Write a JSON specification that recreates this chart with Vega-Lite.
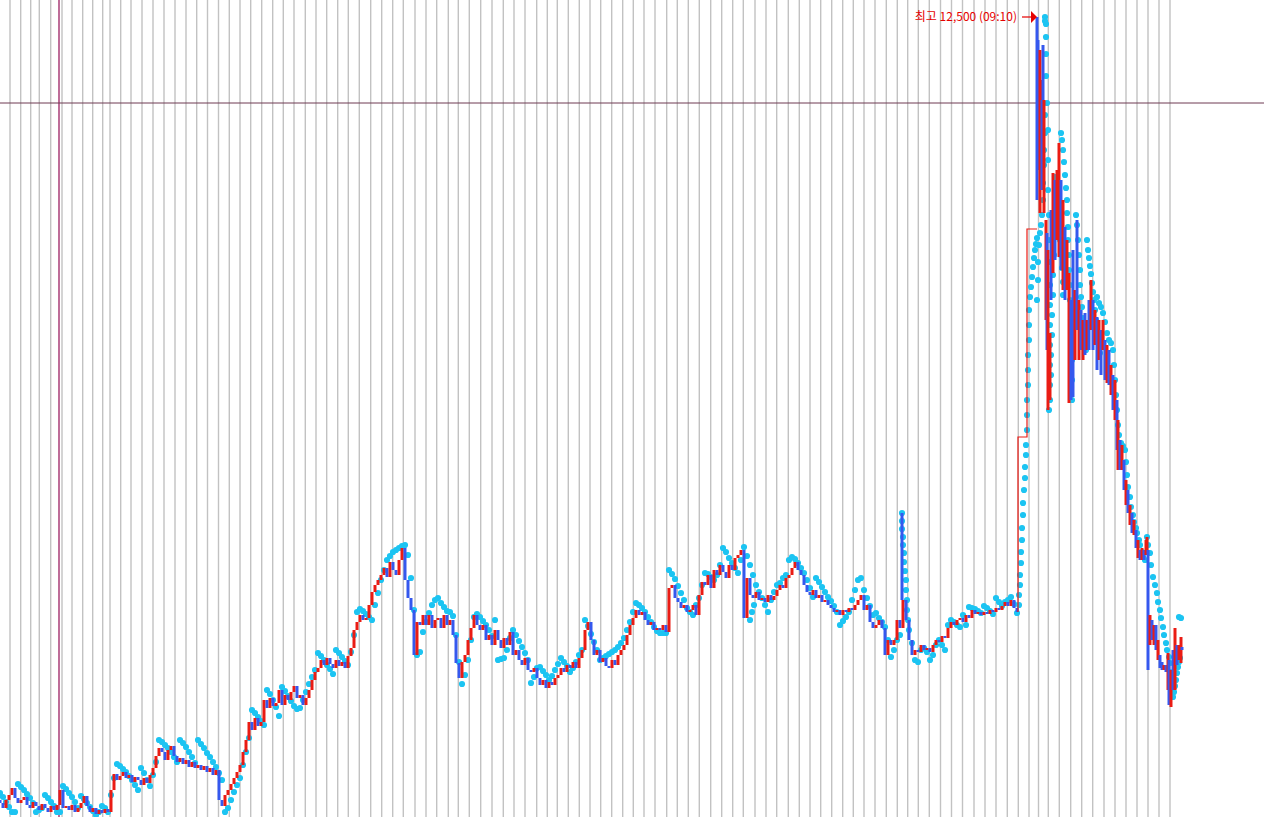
{
"$schema":"https://vega.github.io/schema/vega-lite/v6.json",
"width":1264,"height":817,
"autosize":"none",
"padding":0,
"background":"white",
"config":{"view":{"stroke":null}},
"datasets":{
"grid":[{"t":10},{"t":20.7},{"t":30.7},{"t":39.3},{"t":50.7},{"t":62},{"t":72},{"t":82.7},{"t":92.7},{"t":102.7},{"t":110},{"t":120.7},{"t":131},{"t":142},{"t":153},{"t":164},{"t":175},{"t":186},{"t":196.7},{"t":207.5},{"t":218.5},{"t":229.3},{"t":240},{"t":250.7},{"t":261.7},{"t":272.7},{"t":283.3},{"t":294},{"t":305.3},{"t":316},{"t":326.7},{"t":337.7},{"t":348.3},{"t":359.3},{"t":370.7},{"t":381.7},{"t":392.7},{"t":403.3},{"t":415},{"t":426},{"t":436.7},{"t":448.3},{"t":458.3},{"t":469.3},{"t":480.7},{"t":492},{"t":503.3},{"t":514},{"t":525},{"t":536.7},{"t":547.3},{"t":557.3},{"t":568.3},{"t":579.3},{"t":590},{"t":600.7},{"t":611.7},{"t":622.7},{"t":633.3},{"t":644},{"t":655},{"t":666.7},{"t":677.3},{"t":688.3},{"t":699.3},{"t":710.7},{"t":721.7},{"t":732.7},{"t":743.3},{"t":755},{"t":766},{"t":776.7},{"t":788.3},{"t":799.3},{"t":810},{"t":820.7},{"t":831.7},{"t":842.7},{"t":853.3},{"t":864},{"t":875},{"t":886.3},{"t":897.3},{"t":907.7},{"t":918.3},{"t":929.3},{"t":940.5},{"t":951.5},{"t":962.5},{"t":974},{"t":985},{"t":996},{"t":1007.3},{"t":1018.3},{"t":1029},{"t":1038.5},{"t":1048.3},{"t":1059.3},{"t":1070.7},{"t":1081.7},{"t":1092.7},{"t":1104},{"t":1115},{"t":1126},{"t":1137},{"t":1148},{"t":1159},{"t":1170}],
"bars":[
{"t":0,"o":11717,"c":11714},{"t":3,"o":11714,"c":11709},{"t":6,"o":11709,"c":11717},{"t":9,"o":11717,"c":11722},{"t":12,"o":11722,"c":11729},{"t":15,"o":11729,"c":11719},{"t":18,"o":11719,"c":11714},{"t":21,"o":11714,"c":11717},{"t":24,"o":11717,"c":11720},{"t":27,"o":11720,"c":11712},
{"t":30,"o":11712,"c":11709},{"t":33,"o":11709,"c":11715},{"t":36,"o":11715,"c":11711},{"t":39,"o":11711,"c":11707},{"t":42,"o":11707,"c":11713},{"t":45,"o":11713,"c":11709},{"t":48,"o":11709,"c":11705},{"t":51,"o":11705,"c":11711},{"t":54,"o":11711,"c":11707},{"t":57,"o":11707,"c":11712},
{"t":60,"o":11712,"c":11727},{"t":63,"o":11727,"c":11709},{"t":66,"o":11709,"c":11711},{"t":69,"o":11711,"c":11707},{"t":72,"o":11707,"c":11712},{"t":75,"o":11712,"c":11705},{"t":78,"o":11705,"c":11709},{"t":81,"o":11709,"c":11714},{"t":84,"o":11714,"c":11721},{"t":87,"o":11721,"c":11711},
{"t":90,"o":11711,"c":11705},{"t":93,"o":11705,"c":11709},{"t":96,"o":11709,"c":11703},{"t":99,"o":11703,"c":11707},{"t":102,"o":11707,"c":11704},{"t":105,"o":11704,"c":11708},{"t":108,"o":11708,"c":11705},{"t":111,"o":11705,"c":11727},{"t":114,"o":11727,"c":11743},{"t":117,"o":11743,"c":11737},
{"t":120,"o":11737,"c":11741},{"t":123,"o":11741,"c":11745},{"t":126,"o":11745,"c":11739},{"t":129,"o":11739,"c":11742},{"t":132,"o":11742,"c":11735},{"t":135,"o":11735,"c":11740},{"t":138,"o":11740,"c":11737},{"t":141,"o":11737,"c":11732},{"t":144,"o":11732,"c":11739},{"t":147,"o":11739,"c":11734},
{"t":150,"o":11734,"c":11742},{"t":153,"o":11742,"c":11749},{"t":156,"o":11749,"c":11761},{"t":159,"o":11761,"c":11769},{"t":162,"o":11769,"c":11765},{"t":165,"o":11765,"c":11757},{"t":168,"o":11757,"c":11767},{"t":171,"o":11767,"c":11771},{"t":174,"o":11771,"c":11761},{"t":177,"o":11761,"c":11755},
{"t":180,"o":11755,"c":11759},{"t":183,"o":11759,"c":11753},{"t":186,"o":11753,"c":11757},{"t":189,"o":11757,"c":11750},{"t":192,"o":11750,"c":11755},{"t":195,"o":11755,"c":11749},{"t":198,"o":11749,"c":11752},{"t":201,"o":11752,"c":11747},{"t":204,"o":11747,"c":11751},{"t":207,"o":11751,"c":11745},
{"t":210,"o":11745,"c":11749},{"t":213,"o":11749,"c":11742},{"t":216,"o":11742,"c":11747},{"t":219,"o":11747,"c":11717},{"t":222,"o":11717,"c":11711},{"t":225,"o":11711,"c":11722},{"t":228,"o":11722,"c":11727},{"t":231,"o":11727,"c":11733},{"t":234,"o":11733,"c":11739},{"t":237,"o":11739,"c":11745},
{"t":240,"o":11745,"c":11752},{"t":243,"o":11752,"c":11765},{"t":246,"o":11765,"c":11777},{"t":249,"o":11777,"c":11795},{"t":252,"o":11795,"c":11787},{"t":255,"o":11787,"c":11799},{"t":258,"o":11799,"c":11791},{"t":261,"o":11791,"c":11795},{"t":264,"o":11795,"c":11817},{"t":267,"o":11817,"c":11809},
{"t":270,"o":11809,"c":11819},{"t":273,"o":11819,"c":11811},{"t":276,"o":11811,"c":11814},{"t":279,"o":11814,"c":11827},{"t":282,"o":11827,"c":11812},{"t":285,"o":11812,"c":11822},{"t":288,"o":11822,"c":11817},{"t":291,"o":11817,"c":11825},{"t":294,"o":11825,"c":11831},{"t":297,"o":11831,"c":11819},
{"t":300,"o":11819,"c":11822},{"t":303,"o":11822,"c":11812},{"t":306,"o":11812,"c":11819},{"t":309,"o":11819,"c":11827},{"t":312,"o":11827,"c":11837},{"t":315,"o":11837,"c":11845},{"t":318,"o":11845,"c":11849},{"t":321,"o":11849,"c":11857},{"t":324,"o":11857,"c":11852},{"t":327,"o":11852,"c":11859},
{"t":330,"o":11859,"c":11853},{"t":333,"o":11853,"c":11849},{"t":336,"o":11849,"c":11857},{"t":339,"o":11857,"c":11851},{"t":342,"o":11851,"c":11855},{"t":345,"o":11855,"c":11849},{"t":348,"o":11849,"c":11861},{"t":351,"o":11861,"c":11869},{"t":354,"o":11869,"c":11887},{"t":357,"o":11887,"c":11895},
{"t":360,"o":11895,"c":11902},{"t":363,"o":11902,"c":11897},{"t":366,"o":11897,"c":11899},{"t":369,"o":11899,"c":11912},{"t":372,"o":11912,"c":11925},{"t":375,"o":11925,"c":11932},{"t":378,"o":11932,"c":11937},{"t":381,"o":11937,"c":11942},{"t":384,"o":11942,"c":11949},{"t":387,"o":11949,"c":11940},
{"t":390,"o":11940,"c":11955},{"t":393,"o":11955,"c":11947},{"t":396,"o":11947,"c":11942},{"t":399,"o":11942,"c":11957},{"t":402,"o":11957,"c":11969},{"t":405,"o":11969,"c":11937},{"t":408,"o":11937,"c":11919},{"t":411,"o":11919,"c":11907},{"t":414,"o":11907,"c":11862},{"t":417,"o":11862,"c":11895},
{"t":420,"o":11895,"c":11892},{"t":423,"o":11892,"c":11902},{"t":426,"o":11902,"c":11892},{"t":429,"o":11892,"c":11902},{"t":432,"o":11902,"c":11889},{"t":435,"o":11889,"c":11897},{"t":438,"o":11897,"c":11899},{"t":441,"o":11899,"c":11889},{"t":444,"o":11889,"c":11902},{"t":447,"o":11902,"c":11892},
{"t":450,"o":11892,"c":11897},{"t":453,"o":11897,"c":11882},{"t":456,"o":11882,"c":11854},{"t":459,"o":11854,"c":11839},{"t":462,"o":11839,"c":11855},{"t":465,"o":11855,"c":11862},{"t":468,"o":11862,"c":11877},{"t":471,"o":11877,"c":11889},{"t":474,"o":11889,"c":11902},{"t":477,"o":11902,"c":11892},
{"t":480,"o":11892,"c":11887},{"t":483,"o":11887,"c":11892},{"t":486,"o":11892,"c":11877},{"t":489,"o":11877,"c":11882},{"t":492,"o":11882,"c":11872},{"t":495,"o":11872,"c":11887},{"t":498,"o":11887,"c":11877},{"t":501,"o":11877,"c":11869},{"t":504,"o":11869,"c":11879},{"t":507,"o":11879,"c":11872},
{"t":510,"o":11872,"c":11885},{"t":513,"o":11885,"c":11862},{"t":516,"o":11862,"c":11867},{"t":519,"o":11867,"c":11857},{"t":522,"o":11857,"c":11852},{"t":525,"o":11852,"c":11859},{"t":528,"o":11859,"c":11847},{"t":531,"o":11847,"c":11845},{"t":534,"o":11845,"c":11849},{"t":537,"o":11849,"c":11839},
{"t":540,"o":11839,"c":11832},{"t":543,"o":11832,"c":11837},{"t":546,"o":11837,"c":11829},{"t":549,"o":11829,"c":11835},{"t":552,"o":11835,"c":11832},{"t":555,"o":11832,"c":11839},{"t":558,"o":11839,"c":11842},{"t":561,"o":11842,"c":11849},{"t":564,"o":11849,"c":11845},{"t":567,"o":11845,"c":11852},
{"t":570,"o":11852,"c":11849},{"t":573,"o":11849,"c":11855},{"t":576,"o":11855,"c":11849},{"t":579,"o":11849,"c":11859},{"t":582,"o":11859,"c":11867},{"t":585,"o":11867,"c":11887},{"t":588,"o":11887,"c":11895},{"t":591,"o":11895,"c":11877},{"t":594,"o":11877,"c":11862},{"t":597,"o":11862,"c":11867},
{"t":600,"o":11867,"c":11855},{"t":603,"o":11855,"c":11859},{"t":606,"o":11859,"c":11851},{"t":609,"o":11851,"c":11849},{"t":612,"o":11849,"c":11857},{"t":615,"o":11857,"c":11852},{"t":618,"o":11852,"c":11862},{"t":621,"o":11862,"c":11867},{"t":624,"o":11867,"c":11872},{"t":627,"o":11872,"c":11882},
{"t":630,"o":11882,"c":11892},{"t":633,"o":11892,"c":11899},{"t":636,"o":11899,"c":11907},{"t":639,"o":11907,"c":11902},{"t":642,"o":11902,"c":11905},{"t":645,"o":11905,"c":11897},{"t":648,"o":11897,"c":11892},{"t":651,"o":11892,"c":11895},{"t":654,"o":11895,"c":11887},{"t":657,"o":11887,"c":11889},
{"t":660,"o":11889,"c":11887},{"t":663,"o":11887,"c":11892},{"t":666,"o":11892,"c":11885},{"t":669,"o":11885,"c":11929},{"t":672,"o":11929,"c":11932},{"t":675,"o":11932,"c":11919},{"t":678,"o":11919,"c":11915},{"t":681,"o":11915,"c":11909},{"t":684,"o":11909,"c":11912},{"t":687,"o":11912,"c":11905},
{"t":690,"o":11905,"c":11907},{"t":693,"o":11907,"c":11912},{"t":696,"o":11912,"c":11902},{"t":699,"o":11902,"c":11922},{"t":702,"o":11922,"c":11935},{"t":705,"o":11935,"c":11932},{"t":708,"o":11932,"c":11942},{"t":711,"o":11942,"c":11929},{"t":714,"o":11929,"c":11947},{"t":717,"o":11947,"c":11942},
{"t":720,"o":11942,"c":11952},{"t":723,"o":11952,"c":11945},{"t":726,"o":11945,"c":11939},{"t":729,"o":11939,"c":11952},{"t":732,"o":11952,"c":11947},{"t":735,"o":11947,"c":11959},{"t":738,"o":11959,"c":11962},{"t":741,"o":11962,"c":11967},{"t":744,"o":11967,"c":11899},{"t":747,"o":11899,"c":11939},
{"t":750,"o":11939,"c":11922},{"t":753,"o":11922,"c":11919},{"t":756,"o":11919,"c":11925},{"t":759,"o":11925,"c":11917},{"t":762,"o":11917,"c":11919},{"t":765,"o":11919,"c":11915},{"t":768,"o":11915,"c":11922},{"t":771,"o":11922,"c":11917},{"t":774,"o":11917,"c":11921},{"t":777,"o":11921,"c":11927},
{"t":780,"o":11927,"c":11932},{"t":783,"o":11932,"c":11929},{"t":786,"o":11929,"c":11939},{"t":789,"o":11939,"c":11942},{"t":792,"o":11942,"c":11949},{"t":795,"o":11949,"c":11955},{"t":798,"o":11955,"c":11947},{"t":801,"o":11947,"c":11942},{"t":804,"o":11942,"c":11932},{"t":807,"o":11932,"c":11925},
{"t":810,"o":11925,"c":11922},{"t":813,"o":11922,"c":11927},{"t":816,"o":11927,"c":11919},{"t":819,"o":11919,"c":11922},{"t":822,"o":11922,"c":11915},{"t":825,"o":11915,"c":11917},{"t":828,"o":11917,"c":11912},{"t":831,"o":11912,"c":11909},{"t":834,"o":11909,"c":11905},{"t":837,"o":11905,"c":11907},
{"t":840,"o":11907,"c":11902},{"t":843,"o":11902,"c":11907},{"t":846,"o":11907,"c":11905},{"t":849,"o":11905,"c":11909},{"t":852,"o":11909,"c":11907},{"t":855,"o":11907,"c":11912},{"t":858,"o":11912,"c":11917},{"t":861,"o":11917,"c":11922},{"t":864,"o":11922,"c":11907},{"t":867,"o":11907,"c":11912},
{"t":870,"o":11912,"c":11895},{"t":873,"o":11895,"c":11889},{"t":876,"o":11889,"c":11892},{"t":879,"o":11892,"c":11897},{"t":882,"o":11897,"c":11889},{"t":885,"o":11889,"c":11862},{"t":888,"o":11862,"c":11877},{"t":891,"o":11877,"c":11872},{"t":894,"o":11872,"c":11877},{"t":897,"o":11877,"c":11897},
{"t":900,"o":11897,"c":11889},{"t":902,"o":12004,"c":11917},{"t":903,"o":11889,"c":11917},{"t":906,"o":11917,"c":11897},{"t":909,"o":11897,"c":11877},{"t":912,"o":11877,"c":11862},{"t":915,"o":11862,"c":11867},{"t":918,"o":11867,"c":11865},{"t":921,"o":11865,"c":11872},{"t":924,"o":11872,"c":11867},{"t":927,"o":11867,"c":11869},
{"t":930,"o":11869,"c":11865},{"t":933,"o":11865,"c":11872},{"t":936,"o":11872,"c":11877},{"t":939,"o":11877,"c":11875},{"t":942,"o":11875,"c":11881},{"t":945,"o":11881,"c":11879},{"t":948,"o":11879,"c":11889},{"t":951,"o":11889,"c":11895},{"t":954,"o":11895,"c":11892},{"t":957,"o":11892,"c":11897},
{"t":960,"o":11897,"c":11899},{"t":963,"o":11899,"c":11895},{"t":966,"o":11895,"c":11902},{"t":969,"o":11902,"c":11899},{"t":972,"o":11899,"c":11907},{"t":975,"o":11907,"c":11903},{"t":978,"o":11903,"c":11905},{"t":981,"o":11905,"c":11902},{"t":984,"o":11902,"c":11905},{"t":987,"o":11905,"c":11903},
{"t":990,"o":11903,"c":11907},{"t":993,"o":11907,"c":11905},{"t":996,"o":11905,"c":11909},{"t":999,"o":11909,"c":11907},{"t":1002,"o":11907,"c":11911},{"t":1005,"o":11911,"c":11915},{"t":1008,"o":11915,"c":11911},{"t":1011,"o":11911,"c":11917},{"t":1014,"o":11917,"c":11909},{"t":1017,"o":11909,"c":11905},
{"t":1037,"o":12500,"c":12317},{"t":1038,"o":12477,"c":12347},{"t":1040,"o":12304,"c":12467},{"t":1041,"o":12387,"c":12437},{"t":1042,"o":12417,"c":12327},{"t":1043,"o":12472,"c":12407},{"t":1044,"o":12304,"c":12417},{"t":1046,"o":12197,"c":12297},{"t":1047,"o":12284,"c":12167},{"t":1048,"o":12107,"c":12267},
{"t":1050,"o":12117,"c":12184},{"t":1051,"o":12307,"c":12217},{"t":1053,"o":12244,"c":12344},{"t":1055,"o":12337,"c":12257},{"t":1057,"o":12277,"c":12347},{"t":1059,"o":12260,"c":12374},{"t":1061,"o":12337,"c":12247},{"t":1063,"o":12227,"c":12317},{"t":1065,"o":12290,"c":12217},{"t":1067,"o":12227,"c":12277},
{"t":1069,"o":12114,"c":12244},{"t":1071,"o":12217,"c":12117},{"t":1073,"o":12267,"c":12120},{"t":1075,"o":12157,"c":12227},{"t":1077,"o":12297,"c":12187},{"t":1079,"o":12157,"c":12217},{"t":1081,"o":12207,"c":12167},{"t":1083,"o":12157,"c":12197},{"t":1085,"o":12204,"c":12162},{"t":1087,"o":12167,"c":12197},
{"t":1089,"o":12217,"c":12167},{"t":1091,"o":12187,"c":12237},{"t":1093,"o":12217,"c":12167},{"t":1095,"o":12172,"c":12207},{"t":1097,"o":12200,"c":12147},{"t":1099,"o":12157,"c":12197},{"t":1101,"o":12187,"c":12142},{"t":1103,"o":12167,"c":12197},{"t":1105,"o":12177,"c":12137},{"t":1107,"o":12134,"c":12172},
{"t":1109,"o":12167,"c":12132},{"t":1111,"o":12122,"c":12152},{"t":1113,"o":12142,"c":12107},{"t":1115,"o":12097,"c":12137},{"t":1117,"o":12117,"c":12067},{"t":1118,"o":12047,"c":12097},{"t":1120,"o":12077,"c":12047},{"t":1122,"o":12047,"c":12072},{"t":1124,"o":12057,"c":12027},{"t":1126,"o":12012,"c":12037},
{"t":1128,"o":12027,"c":12004},{"t":1130,"o":11992,"c":12012},{"t":1132,"o":12004,"c":11984},{"t":1134,"o":11982,"c":11997},{"t":1136,"o":11987,"c":11969},{"t":1138,"o":11959,"c":11977},{"t":1140,"o":11967,"c":11957},{"t":1142,"o":11957,"c":11969},{"t":1144,"o":11967,"c":11957},{"t":1146,"o":11962,"c":11977},
{"t":1147,"o":11964,"c":11980},{"t":1148,"o":11967,"c":11847},{"t":1150,"o":11872,"c":11902},{"t":1152,"o":11897,"c":11877},{"t":1154,"o":11872,"c":11892},{"t":1156,"o":11892,"c":11867},{"t":1158,"o":11857,"c":11877},{"t":1160,"o":11862,"c":11849},{"t":1162,"o":11855,"c":11847},{"t":1164,"o":11847,"c":11852},
{"t":1166,"o":11852,"c":11845},{"t":1168,"o":11827,"c":11864},{"t":1169,"o":11857,"c":11812},{"t":1171,"o":11810,"c":11847},{"t":1173,"o":11867,"c":11827},{"t":1175,"o":11827,"c":11889},{"t":1177,"o":11872,"c":11852},{"t":1179,"o":11857,"c":11872},{"t":1181,"o":11854,"c":11880},{"t":1182,"o":11870,"c":11867}
],
"sar":[
{"t":0,"p":11724},{"t":3,"p":11720},{"t":6,"p":11715},{"t":9,"p":11710},{"t":12,"p":11705},{"t":15,"p":11705},{"t":18,"p":11733},{"t":21,"p":11730},{"t":24,"p":11727},{"t":27,"p":11723},
{"t":30,"p":11719},{"t":33,"p":11714},{"t":36,"p":11705},{"t":39,"p":11707},{"t":42,"p":11709},{"t":45,"p":11722},{"t":48,"p":11719},{"t":51,"p":11715},{"t":54,"p":11711},{"t":57,"p":11705},
{"t":60,"p":11705},{"t":63,"p":11731},{"t":66,"p":11728},{"t":69,"p":11724},{"t":72,"p":11720},{"t":75,"p":11715},{"t":78,"p":11709},{"t":81,"p":11721},{"t":84,"p":11718},{"t":87,"p":11714},
{"t":90,"p":11710},{"t":93,"p":11706},{"t":96,"p":11702},{"t":99,"p":11705},{"t":102,"p":11711},{"t":105,"p":11709},{"t":108,"p":11705},{"t":111,"p":11722},{"t":114,"p":11739},{"t":117,"p":11753},
{"t":120,"p":11751},{"t":123,"p":11748},{"t":126,"p":11745},{"t":129,"p":11741},{"t":132,"p":11737},{"t":135,"p":11732},{"t":138,"p":11727},{"t":141,"p":11749},{"t":144,"p":11744},{"t":147,"p":11737},
{"t":150,"p":11731},{"t":153,"p":11742},{"t":156,"p":11755},{"t":159,"p":11777},{"t":162,"p":11775},{"t":165,"p":11772},{"t":168,"p":11769},{"t":171,"p":11765},{"t":174,"p":11760},{"t":177,"p":11755},
{"t":180,"p":11777},{"t":183,"p":11774},{"t":186,"p":11770},{"t":189,"p":11765},{"t":192,"p":11760},{"t":195,"p":11754},{"t":198,"p":11777},{"t":201,"p":11773},{"t":204,"p":11769},{"t":207,"p":11764},
{"t":210,"p":11760},{"t":213,"p":11755},{"t":216,"p":11750},{"t":219,"p":11744},{"t":222,"p":11737},{"t":225,"p":11705},{"t":228,"p":11709},{"t":231,"p":11717},{"t":234,"p":11725},{"t":237,"p":11732},
{"t":240,"p":11739},{"t":243,"p":11752},{"t":246,"p":11765},{"t":249,"p":11779},{"t":252,"p":11807},{"t":255,"p":11804},{"t":258,"p":11800},{"t":261,"p":11796},{"t":264,"p":11792},{"t":267,"p":11827},
{"t":270,"p":11823},{"t":273,"p":11817},{"t":276,"p":11810},{"t":279,"p":11801},{"t":282,"p":11830},{"t":285,"p":11826},{"t":288,"p":11821},{"t":291,"p":11816},{"t":294,"p":11811},{"t":297,"p":11808},
{"t":300,"p":11809},{"t":303,"p":11817},{"t":306,"p":11825},{"t":309,"p":11833},{"t":312,"p":11840},{"t":315,"p":11847},{"t":318,"p":11864},{"t":321,"p":11861},{"t":324,"p":11857},{"t":327,"p":11852},
{"t":330,"p":11848},{"t":333,"p":11843},{"t":336,"p":11867},{"t":339,"p":11864},{"t":342,"p":11860},{"t":345,"p":11856},{"t":348,"p":11852},{"t":351,"p":11865},{"t":354,"p":11882},{"t":357,"p":11905},
{"t":360,"p":11908},{"t":363,"p":11906},{"t":366,"p":11903},{"t":369,"p":11900},{"t":372,"p":11897},{"t":375,"p":11912},{"t":378,"p":11924},{"t":381,"p":11937},{"t":384,"p":11947},{"t":387,"p":11957},
{"t":390,"p":11961},{"t":393,"p":11965},{"t":396,"p":11967},{"t":399,"p":11969},{"t":402,"p":11971},{"t":405,"p":11972},{"t":408,"p":11962},{"t":411,"p":11939},{"t":414,"p":11907},{"t":417,"p":11862},
{"t":420,"p":11865},{"t":423,"p":11885},{"t":426,"p":11895},{"t":429,"p":11904},{"t":432,"p":11912},{"t":435,"p":11917},{"t":438,"p":11919},{"t":441,"p":11914},{"t":444,"p":11910},{"t":447,"p":11906},
{"t":450,"p":11905},{"t":453,"p":11901},{"t":456,"p":11882},{"t":459,"p":11855},{"t":462,"p":11833},{"t":465,"p":11842},{"t":468,"p":11857},{"t":471,"p":11877},{"t":474,"p":11900},{"t":477,"p":11903},
{"t":480,"p":11900},{"t":483,"p":11896},{"t":486,"p":11892},{"t":489,"p":11887},{"t":492,"p":11881},{"t":495,"p":11897},{"t":498,"p":11857},{"t":501,"p":11858},{"t":504,"p":11859},{"t":507,"p":11867},
{"t":510,"p":11879},{"t":513,"p":11887},{"t":516,"p":11882},{"t":519,"p":11876},{"t":522,"p":11870},{"t":525,"p":11864},{"t":528,"p":11857},{"t":531,"p":11834},{"t":534,"p":11840},{"t":537,"p":11849},
{"t":540,"p":11850},{"t":543,"p":11846},{"t":546,"p":11842},{"t":549,"p":11837},{"t":552,"p":11841},{"t":555,"p":11847},{"t":558,"p":11853},{"t":561,"p":11859},{"t":564,"p":11855},{"t":567,"p":11851},
{"t":570,"p":11845},{"t":573,"p":11849},{"t":576,"p":11855},{"t":579,"p":11862},{"t":582,"p":11867},{"t":585,"p":11897},{"t":588,"p":11891},{"t":591,"p":11883},{"t":594,"p":11875},{"t":597,"p":11867},
{"t":600,"p":11857},{"t":603,"p":11859},{"t":606,"p":11861},{"t":609,"p":11863},{"t":612,"p":11865},{"t":615,"p":11867},{"t":618,"p":11870},{"t":621,"p":11874},{"t":624,"p":11879},{"t":627,"p":11887},
{"t":630,"p":11895},{"t":633,"p":11905},{"t":636,"p":11914},{"t":639,"p":11912},{"t":642,"p":11909},{"t":645,"p":11905},{"t":648,"p":11900},{"t":651,"p":11895},{"t":654,"p":11890},{"t":657,"p":11886},
{"t":660,"p":11884},{"t":663,"p":11884},{"t":666,"p":11884},{"t":669,"p":11947},{"t":672,"p":11943},{"t":675,"p":11938},{"t":678,"p":11931},{"t":681,"p":11924},{"t":684,"p":11917},{"t":687,"p":11909},
{"t":690,"p":11905},{"t":693,"p":11902},{"t":696,"p":11912},{"t":699,"p":11919},{"t":702,"p":11932},{"t":705,"p":11944},{"t":708,"p":11943},{"t":711,"p":11940},{"t":714,"p":11937},{"t":717,"p":11942},
{"t":720,"p":11952},{"t":723,"p":11969},{"t":726,"p":11965},{"t":729,"p":11959},{"t":732,"p":11954},{"t":735,"p":11949},{"t":738,"p":11944},{"t":741,"p":11957},{"t":744,"p":11970},{"t":747,"p":11961},
{"t":750,"p":11952},{"t":753,"p":11942},{"t":756,"p":11932},{"t":759,"p":11925},{"t":762,"p":11919},{"t":765,"p":11912},{"t":768,"p":11905},{"t":771,"p":11917},{"t":774,"p":11925},{"t":777,"p":11932},
{"t":750,"p":11897},{"t":752,"p":11905},{"t":754,"p":11912},
{"t":780,"p":11934},{"t":783,"p":11939},{"t":786,"p":11942},{"t":789,"p":11957},{"t":792,"p":11960},{"t":795,"p":11958},{"t":798,"p":11954},{"t":801,"p":11949},{"t":804,"p":11944},{"t":807,"p":11937},
{"t":810,"p":11929},{"t":813,"p":11920},{"t":816,"p":11939},{"t":819,"p":11935},{"t":822,"p":11930},{"t":825,"p":11925},{"t":828,"p":11920},{"t":831,"p":11916},{"t":834,"p":11911},{"t":837,"p":11905},
{"t":840,"p":11892},{"t":843,"p":11896},{"t":846,"p":11900},{"t":849,"p":11905},{"t":852,"p":11917},{"t":855,"p":11927},{"t":858,"p":11937},{"t":861,"p":11939},{"t":864,"p":11927},{"t":867,"p":11919},
{"t":870,"p":11911},{"t":873,"p":11902},{"t":876,"p":11904},{"t":879,"p":11899},{"t":882,"p":11895},{"t":885,"p":11890},{"t":888,"p":11877},{"t":891,"p":11860},{"t":894,"p":11867},{"t":897,"p":11877},
{"t":900,"p":11882},{"t":902,"p":12004},{"t":902,"p":11996},{"t":902,"p":11988},{"t":903,"p":11980},{"t":903,"p":11972},{"t":904,"p":11964},{"t":904,"p":11955},{"t":905,"p":11946},{"t":906,"p":11937},{"t":906,"p":11927},{"t":907,"p":11917},{"t":907,"p":11907},{"t":908,"p":11897},
{"t":909,"p":11887},{"t":912,"p":11874},{"t":915,"p":11857},{"t":918,"p":11855},{"t":921,"p":11867},{"t":924,"p":11869},{"t":927,"p":11865},
{"t":930,"p":11857},{"t":933,"p":11862},{"t":936,"p":11872},{"t":939,"p":11877},{"t":942,"p":11872},{"t":945,"p":11867},{"t":948,"p":11892},{"t":951,"p":11897},{"t":954,"p":11895},{"t":957,"p":11892},
{"t":960,"p":11890},{"t":963,"p":11902},{"t":966,"p":11892},{"t":969,"p":11910},{"t":972,"p":11909},{"t":975,"p":11908},{"t":978,"p":11906},{"t":981,"p":11904},{"t":984,"p":11911},{"t":987,"p":11909},
{"t":990,"p":11906},{"t":993,"p":11903},{"t":996,"p":11919},{"t":999,"p":11915},{"t":1002,"p":11911},{"t":1005,"p":11915},{"t":1008,"p":11917},{"t":1011,"p":11920},{"t":1014,"p":11913},{"t":1017,"p":11904},
{"t":1019,"p":11912},{"t":1019,"p":11922},{"t":1020,"p":11932},{"t":1020,"p":11942},{"t":1021,"p":11954},{"t":1021,"p":11965},{"t":1022,"p":11977},{"t":1022,"p":11989},{"t":1023,"p":12002},{"t":1023,"p":12014},{"t":1024,"p":12027},{"t":1025,"p":12039},{"t":1025,"p":12050},{"t":1026,"p":12062},{"t":1026,"p":12072},{"t":1027,"p":12087},{"t":1027,"p":12102},{"t":1027,"p":12117},{"t":1028,"p":12132},{"t":1028,"p":12147},{"t":1028,"p":12162},{"t":1029,"p":12177},{"t":1029,"p":12192},{"t":1029,"p":12207},{"t":1030,"p":12220},{"t":1031,"p":12230},{"t":1032,"p":12240},{"t":1033,"p":12250},{"t":1034,"p":12259},{"t":1035,"p":12267},{"t":1036,"p":12273},{"t":1037,"p":12279},
{"t":1037,"p":12217},{"t":1038,"p":12237},{"t":1038,"p":12255},{"t":1039,"p":12272},{"t":1040,"p":12284},{"t":1041,"p":12292},{"t":1042,"p":12302},{"t":1043,"p":12317},{"t":1043,"p":12334},{"t":1044,"p":12352},{"t":1044,"p":12367},{"t":1045,"p":12384},{"t":1045,"p":12402},
{"t":1045,"p":12500},{"t":1045,"p":12496},{"t":1046,"p":12493},{"t":1046,"p":12480},{"t":1046,"p":12463},{"t":1046,"p":12441},{"t":1047,"p":12414},{"t":1048,"p":12387},{"t":1048,"p":12357},{"t":1048,"p":12327},{"t":1049,"p":12302},{"t":1049,"p":12277},{"t":1049,"p":12255},{"t":1050,"p":12232},{"t":1050,"p":12212},{"t":1050,"p":12192},{"t":1050,"p":12172},{"t":1050,"p":12152},{"t":1050,"p":12132},{"t":1050,"p":12117},{"t":1049,"p":12107},
{"t":1051,"p":12142},{"t":1051,"p":12162},{"t":1052,"p":12182},{"t":1052,"p":12202},{"t":1053,"p":12222},{"t":1053,"p":12242},{"t":1054,"p":12262},{"t":1054,"p":12282},{"t":1055,"p":12302},{"t":1055,"p":12322},
{"t":1055,"p":12340},{"t":1056,"p":12327},{"t":1057,"p":12317},{"t":1058,"p":12305},{"t":1059,"p":12292},{"t":1060,"p":12277},{"t":1061,"p":12262},{"t":1062,"p":12249},{"t":1063,"p":12235},{"t":1063,"p":12222},
{"t":1061,"p":12384},{"t":1062,"p":12377},{"t":1063,"p":12367},{"t":1064,"p":12355},{"t":1065,"p":12342},{"t":1066,"p":12329},{"t":1067,"p":12317},{"t":1067,"p":12304},{"t":1068,"p":12290},{"t":1068,"p":12277},{"t":1069,"p":12262},{"t":1069,"p":12247},{"t":1070,"p":12232},{"t":1070,"p":12217},
{"t":1071,"p":12197},{"t":1072,"p":12177},{"t":1072,"p":12157},{"t":1072,"p":12137},{"t":1072,"p":12117},
{"t":1076,"p":12302},{"t":1077,"p":12292},{"t":1078,"p":12277},{"t":1079,"p":12262},{"t":1080,"p":12247},{"t":1080,"p":12232},{"t":1081,"p":12220},{"t":1082,"p":12210},{"t":1083,"p":12199},{"t":1084,"p":12187},{"t":1085,"p":12177},{"t":1086,"p":12167},
{"t":1087,"p":12277},{"t":1088,"p":12267},{"t":1089,"p":12259},{"t":1090,"p":12251},{"t":1091,"p":12243},{"t":1092,"p":12234},{"t":1093,"p":12225},{"t":1094,"p":12217},{"t":1095,"p":12207},{"t":1096,"p":12197},{"t":1097,"p":12187},{"t":1098,"p":12179},{"t":1099,"p":12172},{"t":1100,"p":12164},
{"t":1097,"p":12220},{"t":1099,"p":12214},{"t":1101,"p":12210},{"t":1103,"p":12204},{"t":1105,"p":12195},{"t":1107,"p":12184},{"t":1109,"p":12177},{"t":1111,"p":12174},{"t":1113,"p":12167},{"t":1114,"p":12152},{"t":1115,"p":12137},{"t":1116,"p":12122},{"t":1117,"p":12107},{"t":1118,"p":12092},{"t":1119,"p":12082},{"t":1121,"p":12074},{"t":1123,"p":12071},{"t":1125,"p":12067},{"t":1126,"p":12055},{"t":1127,"p":12042},{"t":1128,"p":12030},{"t":1130,"p":12020},{"t":1131,"p":12010},{"t":1133,"p":12002},{"t":1134,"p":11995},{"t":1136,"p":11989},{"t":1137,"p":11984},{"t":1139,"p":11977},{"t":1140,"p":11972},{"t":1142,"p":11965},{"t":1143,"p":11960},{"t":1145,"p":11957},
{"t":1147,"p":11980},{"t":1148,"p":11972},{"t":1150,"p":11964},{"t":1151,"p":11952},{"t":1153,"p":11940},{"t":1155,"p":11932},{"t":1157,"p":11924},{"t":1158,"p":11915},{"t":1160,"p":11907},{"t":1161,"p":11899},{"t":1163,"p":11890},{"t":1164,"p":11882},{"t":1166,"p":11874},{"t":1167,"p":11867},{"t":1169,"p":11860},{"t":1170,"p":11854},{"t":1170,"p":11845},{"t":1171,"p":11837},{"t":1172,"p":11827},{"t":1173,"p":11820},{"t":1174,"p":11825},{"t":1175,"p":11831},{"t":1176,"p":11837},{"t":1177,"p":11844},{"t":1178,"p":11850},{"t":1179,"p":11855},{"t":1180,"p":11859},{"t":1179,"p":11900},{"t":1181,"p":11899}
],
"step":[{"t":1018,"p":11905,"i":0},{"t":1018,"p":12080,"i":1},{"t":1027,"p":12080,"i":2},{"t":1027,"p":12288,"i":3},{"t":1037,"p":12288,"i":4}],
"note":[{"t":1017,"p":12500,"label":"최고 12,500 (09:10)","t2":1022,"t3":1033,"ta":1034}]
},
"layer":[
{"data":{"name":"grid"},"mark":{"type":"rule","color":"#c2c2c2","strokeWidth":1.4},
 "encoding":{"x":{"field":"t","type":"quantitative","scale":{"domain":[0,1264],"nice":false,"zero":false},"axis":null}}},
{"data":{"values":[{"t":59}]},"mark":{"type":"rule","color":"#a3306e","strokeWidth":1.4},
 "encoding":{"x":{"field":"t","type":"quantitative","scale":{"domain":[0,1264],"nice":false,"zero":false},"axis":null}}},
{"data":{"values":[{"p":12414}]},"mark":{"type":"rule","color":"#6e3a52","strokeWidth":1},
 "encoding":{"y":{"field":"p","type":"quantitative","scale":{"domain":[11700,12517],"nice":false,"zero":false},"axis":null}}},
{"data":{"name":"sar"},"mark":{"type":"circle","color":"#1cc4f2","opacity":1,"size":38},
 "encoding":{"x":{"field":"t","type":"quantitative","scale":{"domain":[0,1264],"nice":false,"zero":false},"axis":null},
  "y":{"field":"p","type":"quantitative","scale":{"domain":[11700,12517],"nice":false,"zero":false},"axis":null}}},
{"data":{"name":"bars"},"mark":{"type":"rule","strokeWidth":3},
 "encoding":{"x":{"field":"t","type":"quantitative","scale":{"domain":[0,1264],"nice":false,"zero":false},"axis":null},
  "y":{"field":"o","type":"quantitative","scale":{"domain":[11700,12517],"nice":false,"zero":false},"axis":null},
  "y2":{"field":"c"},
  "color":{"condition":{"test":"datum.c > datum.o","value":"#ea1c14"},"value":"#3558ee"}}},
{"data":{"name":"step"},"mark":{"type":"line","color":"#ea1c14","strokeWidth":1.2,"interpolate":"linear"},
 "encoding":{"x":{"field":"t","type":"quantitative","scale":{"domain":[0,1264],"nice":false,"zero":false},"axis":null},
  "y":{"field":"p","type":"quantitative","scale":{"domain":[11700,12517],"nice":false,"zero":false},"axis":null},
  "order":{"field":"i","type":"quantitative"}}},
{"data":{"name":"note"},"mark":{"type":"text","align":"right","baseline":"middle","color":"#e60000","font":"Noto Sans CJK KR","fontSize":12},
 "encoding":{"x":{"field":"t","type":"quantitative","scale":{"domain":[0,1264],"nice":false,"zero":false},"axis":null},
  "y":{"field":"p","type":"quantitative","scale":{"domain":[11700,12517],"nice":false,"zero":false},"axis":null},
  "text":{"field":"label"}}},
{"data":{"name":"note"},"mark":{"type":"rule","color":"#e60000","strokeWidth":1.2},
 "encoding":{"x":{"field":"t2","type":"quantitative","scale":{"domain":[0,1264],"nice":false,"zero":false},"axis":null},
  "x2":{"field":"t3"},
  "y":{"field":"p","type":"quantitative","scale":{"domain":[11700,12517],"nice":false,"zero":false},"axis":null}}},
{"data":{"name":"note"},"mark":{"type":"point","filled":true,"color":"#e60000","opacity":1,"size":144,"shape":"M-0.5,-1L0.5,0L-0.5,1Z"},
 "encoding":{"x":{"field":"ta","type":"quantitative","scale":{"domain":[0,1264],"nice":false,"zero":false},"axis":null},
  "y":{"field":"p","type":"quantitative","scale":{"domain":[11700,12517],"nice":false,"zero":false},"axis":null}}}
]
}
